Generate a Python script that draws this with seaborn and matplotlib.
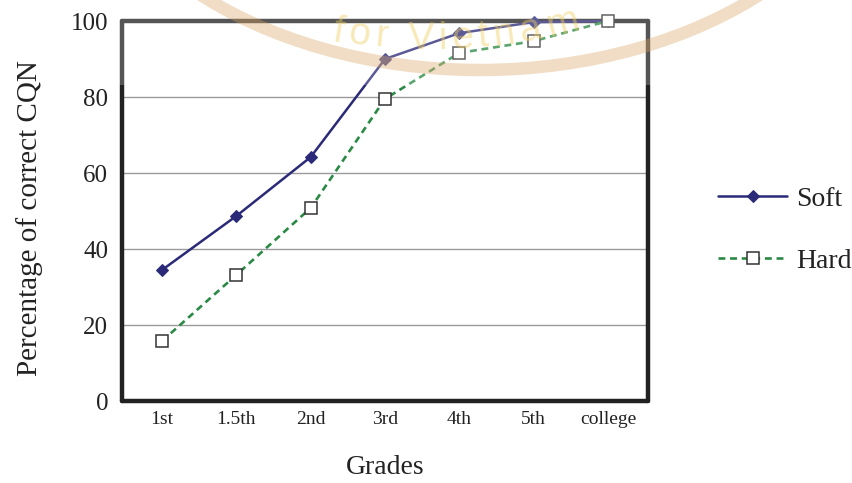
import numpy as np
import pandas as pd
import matplotlib
matplotlib.use("Agg")
import matplotlib.pyplot as plt
import seaborn as sns
from matplotlib.patches import Ellipse, Rectangle

# Data
grades = ["1st", "1.5th", "2nd", "3rd", "4th", "5th", "college"]
soft = [34.5, 48.7, 64.2, 90.0, 96.8, 99.7, 100.0]
hard = [15.8, 33.2, 50.8, 79.5, 91.6, 94.7, 100.0]
y_ticks = [0, 20, 40, 60, 80, 100]

df = pd.DataFrame({"grade": grades, "Soft": soft, "Hard": hard})

sns.set_style("white")
plt.rcParams["font.family"] = ["Liberation Serif", "DejaVu Serif"]

W, H = 853, 483
fig = plt.figure(figsize=(W / 100, H / 100), dpi=100)
ax = fig.add_axes([122 / W, 82 / H, 526 / W, 380 / H])

sns.lineplot(data=df, x="grade", y="Soft", ax=ax, sort=False, color="#2b2a78",
             lw=1.8, marker="D", markersize=6.5, markeredgecolor="#2b2a78",
             markerfacecolor="#2b2a78", label="Soft", clip_on=False, zorder=4)
sns.lineplot(data=df, x="grade", y="Hard", ax=ax, sort=False, color="#2a8a45",
             lw=1.9, linestyle=(0, (2.6, 1.8)), marker="s", markersize=8.5,
             markerfacecolor="white", markeredgecolor="#333333", markeredgewidth=1.1,
             label="Hard", clip_on=False, zorder=5)

ax.set_xlim(-0.54, len(grades) - 1 + 0.54)
ax.set_ylim(0, 100)
ax.set_yticks(y_ticks)
ax.set_xticks(range(len(grades)))
ax.set_xticks(np.arange(len(grades) - 1) + 0.5, minor=True)
ax.tick_params(axis="y", length=0, pad=10, labelsize=18, colors="#222222")
ax.tick_params(axis="x", which="major", length=0, pad=7, labelsize=14, colors="#222222")
ax.tick_params(axis="x", which="minor", direction="in", length=4, width=0.8, color="#999999")

ax.yaxis.grid(True, color="#9a9a9a", lw=1)
ax.set_axisbelow(True)
for s in ax.spines.values():
    s.set_visible(True)
    s.set_color("#222222")
    s.set_linewidth(3.2)
    s.set_capstyle("round")

ax.set_xlabel("Grades", fontsize=20, color="#222222")
ax.set_ylabel("Percentage of correct CQN", fontsize=21, color="#222222")
ax.xaxis.set_label_coords(0.5, -0.142)
ax.yaxis.set_label_coords(-0.150, 0.482)

ax.get_legend().remove()
handles, labels = ax.get_legend_handles_labels()
fig.legend(handles, labels, loc="center left", bbox_to_anchor=(718 / W, 1 - 230 / H),
           frameon=False, fontsize=20, handlelength=2.5, handletextpad=0.3,
           labelspacing=1.3, borderpad=0, borderaxespad=0, labelcolor="#222222")

# faint lightened band at top (scan overlay)
fig.patches.append(Rectangle((110 / W, 1 - 85 / H), 550 / W, 85 / H,
                             transform=fig.transFigure, facecolor="white",
                             edgecolor="none", alpha=0.23, zorder=10))

# watermark arc
fig.patches.append(Ellipse((480 / W, 1 + 210 / H), 2 * 410 / W, 2 * 280 / H,
                           transform=fig.transFigure, fill=False,
                           edgecolor="#d9a35f", lw=9, alpha=0.36, zorder=11))

# watermark letters laid along an inner arc
wm = "for Vietnam"
adv = {"f": .30, "o": .56, "r": .36, " ": .30, "V": .67, "i": .25,
       "e": .56, "t": .30, "n": .56, "a": .56, "m": .83}
em = 49
cx, cy, a, b = 430, -213, 390, 262
tt = np.linspace(-1.0, 1.0, 4001)
xs = cx + a * np.sin(tt)
ys = cy + b * np.cos(tt)
arc = np.concatenate([[0], np.cumsum(np.hypot(np.diff(xs), np.diff(ys)))])
s0 = np.interp(-np.arcsin((cx - 330) / a), tt, arc)
pos = s0
for ch in wm:
    w = adv[ch] * em
    t = np.interp(pos + w / 2, arc, tt)
    px = cx + a * np.sin(t)
    py = cy + b * np.cos(t)
    ang = np.degrees(np.arctan2(b * np.sin(t), a * np.cos(t)))
    if ch != " ":
        fig.text(px / W, 1 - py / H, ch, fontsize=28, family="Liberation Sans",
                 color="#f0d060", alpha=0.45, ha="center", va="baseline",
                 rotation=ang, rotation_mode="anchor", zorder=11)
    pos += w

fig.savefig("out.png", dpi=100)
